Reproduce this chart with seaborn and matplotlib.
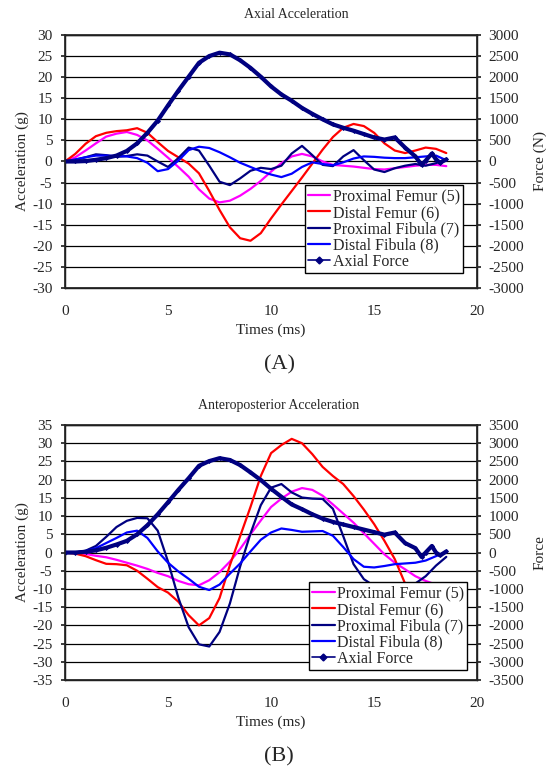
import numpy as np
import pandas as pd
import matplotlib.pyplot as plt
from matplotlib.lines import Line2D
import seaborn as sns

sns.set_theme(style="white")
plt.rcParams['font.family'] = ['Liberation Serif', 'DejaVu Serif']
plt.rcParams['axes.unicode_minus'] = False

# time grid (ms)
t = [0, 0.5, 1, 1.5, 2, 2.5, 3, 3.5, 4, 4.5, 5, 5.5, 6, 6.5, 7, 7.5, 8, 8.5, 9, 9.5,
     10, 10.5, 11, 11.5, 12, 12.5, 13, 13.5, 14, 14.5, 15, 15.5, 16, 16.5, 17, 17.5, 18, 18.5]
t_force = [0, 0.5, 1, 1.5, 2, 2.5, 3, 3.5, 4, 4.5, 5, 5.5, 6, 6.5, 7, 7.5, 8, 8.5, 9, 9.5,
           10, 10.5, 11, 11.5, 12, 12.5, 13, 13.5, 14, 14.5, 15, 15.5, 16, 16.5, 17, 17.3,
           17.5, 17.8, 18, 18.2, 18.5]

# (A) axial acceleration (g)
a_prox_femur = [0, 1.0, 2.6, 4.3, 5.9, 6.6, 7.0, 6.3, 5.0, 3.0, 0.9, -1.3, -3.6, -6.6, -8.8, -9.7,
                -9.3, -8.1, -6.5, -4.6, -2.4, -0.4, 1.2, 1.8, 1.2, 0.0, -0.8, -1.0, -1.2, -1.5,
                -1.8, -1.9, -1.6, -1.3, -1.0, -0.8, -0.8, -1.1]
a_dist_femur = [0, 1.8, 4.2, 6.0, 6.8, 7.2, 7.4, 7.9, 6.8, 4.6, 2.5, 1.0, -0.5, -2.8, -7.0, -11.5,
                -15.6, -18.2, -18.8, -17.0, -13.5, -10.2, -7.0, -3.8, -0.5, 2.8, 5.8, 8.0, 8.9,
                8.4, 6.8, 4.3, 2.6, 2.0, 2.6, 3.3, 3.0, 2.0]
a_prox_fib = [0, 0.4, 1.0, 1.7, 1.5, 1.1, 1.3, 1.7, 1.4, 0.0, -1.3, 0.8, 3.3, 2.6, -1.0, -4.8,
              -5.6, -4.0, -2.2, -1.5, -1.8, -1.0, 1.9, 3.7, 1.5, -0.8, -1.1, 1.2, 2.7, 0.3,
              -1.9, -2.5, -1.6, -1.0, -0.6, -1.0, -0.4, 0.6]
a_dist_fib = [0, 0.5, 1.0, 1.4, 1.4, 1.3, 1.2, 0.8, -0.3, -2.3, -1.8, 0.2, 2.7, 3.5, 3.2, 2.2,
              1.0, -0.3, -1.3, -2.3, -3.1, -3.7, -2.9, -1.3, -0.2, -0.6, -0.9, -0.2, 0.7, 1.2,
              1.1, 0.9, 0.8, 0.8, 1.0, 1.2, 1.4, 0.3]
a_force = [0, 0, 10, 40, 80, 140, 250, 430, 680, 970, 1330, 1680, 2010, 2340, 2500, 2580, 2540,
           2400, 2220, 2010, 1780, 1590, 1440, 1270, 1130, 1000, 880, 800, 730, 650, 570, 520,
           570, 330, 120, -80, 20, 190, 50, -30, 50]

# (B) anteroposterior acceleration (g)
b_prox_femur = [0, 0, -0.4, -0.9, -1.3, -2.0, -2.8, -3.6, -4.5, -5.6, -6.5, -7.8, -8.7, -9.0,
                -7.6, -5.4, -2.5, 1.0, 5.0, 8.8, 12.5, 14.8, 16.7, 17.7, 17.2, 15.6, 13.2, 10.7,
                8.2, 5.3, 2.4, -0.5, -2.8, -4.6, -6.5, -7.8, -8.8, -9.2]
b_dist_femur = [0, -0.3, -1.0, -2.1, -3.1, -3.2, -3.5, -5.0, -7.2, -9.5, -11.0, -13.5, -17.2,
                -20.0, -18.0, -12.5, -3.5, 4.5, 12.5, 21.0, 27.3, 29.5, 31.2, 30.0, 27.0, 23.5,
                21.0, 18.8, 15.5, 11.8, 7.8, 3.2, -1.8, -8.5, -14.5, -20.0, -25.0, -29.0]
b_prox_fib = [0, 0, 0.5, 1.8, 4.3, 7.0, 8.7, 9.5, 9.4, 6.0, -2.5, -12.4, -20.5, -25.2, -25.8,
              -21.8, -14.0, -3.8, 5.2, 13.0, 17.8, 18.8, 16.5, 15.1, 14.8, 14.7, 12.0, 4.5,
              -3.2, -7.3, -9.2, -9.8, -10.1, -9.8, -8.5, -6.5, -3.6, -1.2]
b_dist_fib = [0, 0, 0.4, 1.2, 2.6, 4.0, 5.5, 6.0, 4.0, 0.3, -2.8, -5.2, -7.2, -9.4, -10.3, -8.8,
              -5.8, -3.0, 0.3, 3.5, 5.5, 6.6, 6.2, 5.7, 5.8, 5.9, 4.6, 1.5, -1.8, -3.9, -4.1,
              -3.7, -3.2, -3.0, -2.8, -2.2, -1.0, 0.2]
b_force = [0, 0, 20, 60, 130, 220, 320, 500, 750, 1050, 1380, 1720, 2040, 2380, 2510, 2590, 2540,
           2400, 2200, 1990, 1750, 1530, 1320, 1190, 1050, 930, 840, 770, 700, 630, 560, 490,
           550, 260, 120, -120, 0, 180, 0, -80, 30]

labels = ['Proximal Femur (5)', 'Distal Femur (6)', 'Proximal Fibula (7)', 'Distal Fibula (8)']
colors = ['#FF00FF', '#FF0000', '#000080', '#0000FF']


def panel(ax, series, force, lim, title, title_x, force_label, tag, leg_anchor):
    for vals, lab, col in zip(series, labels, colors):
        sns.lineplot(x=t, y=vals, ax=ax, color=col, lw=1.6, label=lab, legend=False)
    ax.set_xlim(0, 20)
    ax.set_ylim(-lim, lim)
    ax.set_xticks([0, 5, 10, 15, 20])
    ax.set_yticks(np.arange(-lim, lim + 1, 5))
    ax.yaxis.grid(True, color='black', lw=0.9)
    ax.set_axisbelow(True)
    ax.tick_params(axis='x', direction='in', length=4, pad=12, labelsize=11)
    ax.tick_params(axis='y', direction='out', length=3, pad=6, labelsize=11, left=True)
    ax.set_xlabel('Times (ms)', fontsize=11, labelpad=4)
    ax.set_ylabel('Acceleration (g)', fontsize=11, labelpad=2)
    for s in ax.spines.values():
        s.set_color('black')
        s.set_linewidth(1.0)

    ax2 = ax.twinx()
    sns.lineplot(x=t_force, y=force, ax=ax2, color='#000080', lw=3.0, marker='D',
                 markersize=2.6, markeredgewidth=0, legend=False)
    ax2.set_ylim(-lim * 100, lim * 100)
    ax2.set_yticks(np.arange(-lim * 100, lim * 100 + 1, 500))
    ax2.tick_params(axis='y', direction='out', length=3, pad=5, labelsize=11, right=True)
    ax2.set_ylabel(force_label, fontsize=11, labelpad=7)
    ax2.grid(False)

    h1, l1 = ax.get_legend_handles_labels()
    force_handle = Line2D([], [], color='#000080', lw=1.2, marker='D', markersize=3.5)
    leg = ax2.legend(h1 + [force_handle], l1 + ['Axial Force'], loc='lower right',
                     bbox_to_anchor=leg_anchor, fontsize=11.5, frameon=True, fancybox=False,
                     framealpha=1, edgecolor='black', borderpad=0.2, labelspacing=0.02,
                     handlelength=1.4, handletextpad=0.15, borderaxespad=0)
    leg.get_frame().set_linewidth(1.0)

    pos = ax.get_position()
    fig.text(title_x, pos.y1 + 0.026, title, ha='center', va='center', fontsize=10)
    fig.text(0.511, pos.y0 - 0.1, tag, ha='center', va='center', fontsize=16)


fig = plt.figure(figsize=(5.46, 7.69), dpi=100)
ax_a = fig.add_axes([0.119, 0.6255, 0.755, 0.329])
ax_b = fig.add_axes([0.119, 0.1157, 0.755, 0.3316])

panel(ax_a, [a_prox_femur, a_dist_femur, a_prox_fib, a_dist_fib], a_force, 30,
      'Axial Acceleration', 0.542, 'Force (N)', '(A)', (0.966, 0.059))
panel(ax_b, [b_prox_femur, b_dist_femur, b_prox_fib, b_dist_fib], b_force, 35,
      'Anteroposterior Acceleration', 0.511, 'Force', '(B)', (0.976, 0.039))

fig.savefig('out.png', dpi=100, facecolor='white')
